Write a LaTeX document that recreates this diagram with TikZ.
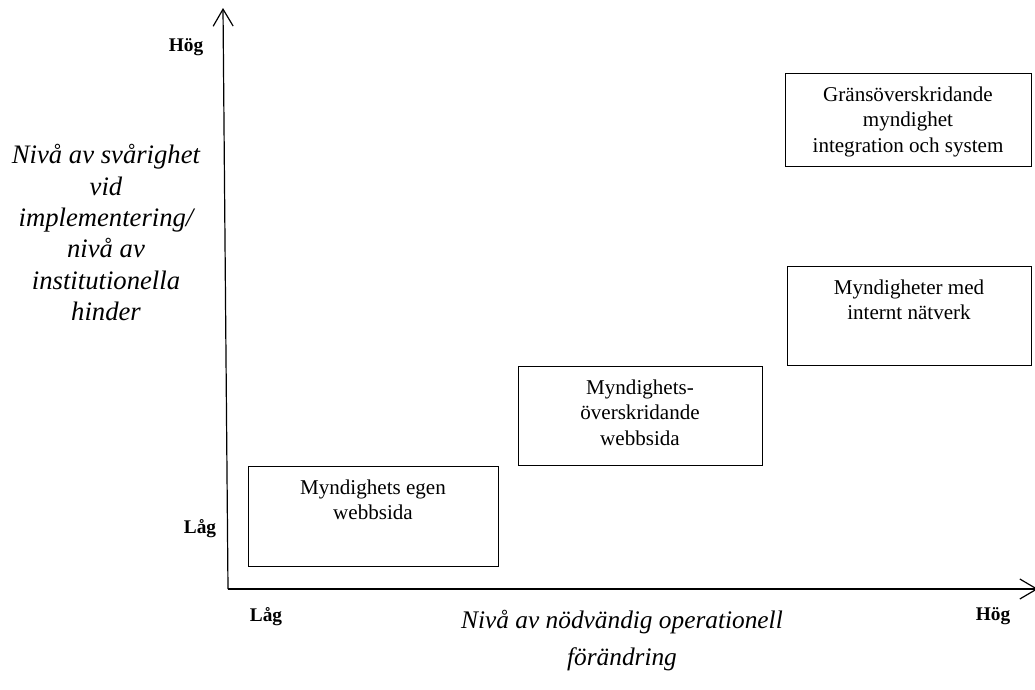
\documentclass[tikz,border=0pt]{standalone}
\usepackage{fontspec}
\setmainfont{Liberation Serif}
\usetikzlibrary{arrows.meta}

\def\px{0.75pt}
\tikzset{
  axis/.style={line width=0.9pt, -{Straight Barb[length=12.75pt,width=15pt]}},
  box/.style={draw, line width=0.7pt, inner sep=0pt},
  boxtext/.style={anchor=north, inner sep=0pt, yshift=-14*\px, align=center,
    font=\fontsize{15.8}{19}\selectfont},
  tick/.style={anchor=base, inner sep=0pt, font=\bfseries\fontsize{14.5}{17}\selectfont},
  ytitle/.style={anchor=north, inner sep=0pt, align=center,
    font=\itshape\fontsize{20}{23.6}\selectfont},
  xtitle/.style={anchor=north, inner sep=0pt, align=center,
    font=\itshape\fontsize{19}{27.75}\selectfont}
}

\begin{document}
\begin{tikzpicture}[x=0.75pt, y=-0.75pt]
  % canvas, same size as the reference
  \fill[white] (0,0) rectangle (1035,689);
  \useasboundingbox (0,0) rectangle (1035,689);

  % axes
  \coordinate (origin) at (228,589);
  \coordinate (ytip) at (223,8);
  \coordinate (xtip) at (1038,589);
  \draw[axis] (origin) -- (ytip);
  \draw[axis] (origin) -- (xtip);

  % levels on the axes
  \node[tick] (yhigh) at (186,51) {Hög};
  \node[tick] (ylow) at (200,533) {Låg};
  \node[tick] (xlow) at (266,621) {Låg};
  \node[tick] (xhigh) at (993,620) {Hög};

  % axis titles
  \node[ytitle] (ylab) at (106,144) {Nivå av svårighet\\vid\\implementering/\\nivå av\\institutionella\\hinder};
  \node[xtitle] (xlab) at (622,610) {Nivå av nödvändig operationell\\förändring};

  % the four stages
  \node[box, minimum width=250*\px, minimum height=100*\px,
    label={[boxtext]north:{Myndighets egen\\webbsida}}] (egen) at (373,516) {};
  \node[box, minimum width=244*\px, minimum height=99*\px,
    label={[boxtext]north:{Myndighets-\\överskridande\\webbsida}}] (over) at (640,415.5) {};
  \node[box, minimum width=244*\px, minimum height=99*\px,
    label={[boxtext]north:{Myndigheter med\\internt nätverk}}] (natverk) at (909,315.5) {};
  \node[box, minimum width=246*\px, minimum height=93*\px,
    label={[boxtext]north:{Gränsöverskridande\\myndighet\\integration och system}}] (grans) at (908,119.5) {};
\end{tikzpicture}
\end{document}
